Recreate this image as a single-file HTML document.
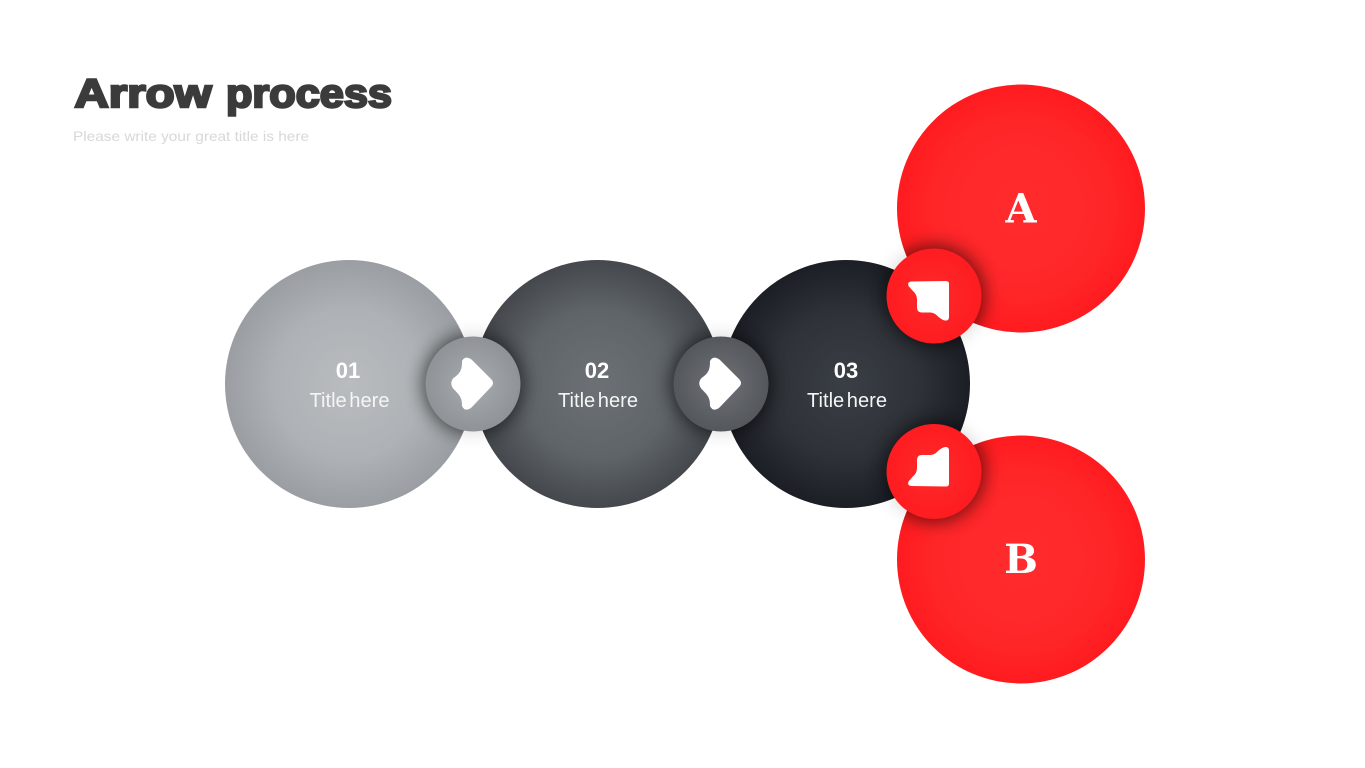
<!DOCTYPE html>
<html><head><meta charset="utf-8"><title>Arrow process</title>
<style>
html,body{margin:0;padding:0;background:#fff;width:1365px;height:768px;overflow:hidden}
svg{display:block}
</style></head>
<body>
<svg width="1365" height="768" viewBox="0 0 1365 768" xmlns="http://www.w3.org/2000/svg">
<defs>
<radialGradient id="g1"><stop offset="0" stop-color="#b8bcbf"/><stop offset=".6" stop-color="#aeb2b6"/><stop offset="1" stop-color="#9a9ea3"/></radialGradient>
<radialGradient id="g2"><stop offset="0" stop-color="#6c7176"/><stop offset=".6" stop-color="#5f6469"/><stop offset="1" stop-color="#44484d"/></radialGradient>
<radialGradient id="g3"><stop offset="0" stop-color="#3a3f45"/><stop offset=".6" stop-color="#2e3238"/><stop offset="1" stop-color="#1b1e25"/></radialGradient>
<radialGradient id="gr"><stop offset="0" stop-color="#ff2b2d"/><stop offset=".7" stop-color="#ff2628"/><stop offset="1" stop-color="#ff1b1f"/></radialGradient>
<radialGradient id="s1"><stop offset="0" stop-color="#a8acb0"/><stop offset="1" stop-color="#8f9397"/></radialGradient>
<radialGradient id="s2"><stop offset="0" stop-color="#6e7276"/><stop offset="1" stop-color="#54585c"/></radialGradient>
<radialGradient id="sr"><stop offset="0" stop-color="#ff2a2b"/><stop offset="1" stop-color="#fe1c20"/></radialGradient>
<filter id="blur" x="-50%" y="-50%" width="200%" height="200%"><feGaussianBlur stdDeviation="9"/></filter>
<clipPath id="big">
<circle cx="1021" cy="208.5" r="124"/>
<circle cx="1021" cy="559.5" r="124"/>
<circle cx="349" cy="384" r="124"/>
<circle cx="597.5" cy="384" r="124"/>
<circle cx="846" cy="384" r="124"/>
</clipPath>
<path id="arr" d="M-11,-23 Q-8,-29 -1.5,-24.5 L18,-5 Q22,-1 18,3 L-1.5,23.5 Q-8,28.5 -11,22 C-11,15 -12,12 -19.5,5 Q-24,-1 -19.5,-6 C-12,-11 -11,-15 -11,-23 Z" fill="#fff"/>
<path id="sq" d="M-23,-14.5 L12,-15 Q15,-15 15,-12 L15,21 Q15,25 11,24.5 Q8,24 4,20.5 C1,17 -2,16.5 -5,16.5 L-12,16.5 Q-17,16.5 -17,11 L-17,4 C-17,-1 -19,-3 -22,-6 L-25.5,-10 Q-27,-14 -23,-14.5 Z" fill="#fff"/>
</defs>

<g font-family="'Liberation Sans',sans-serif" font-weight="700" font-size="40" fill="#3b3b3b" stroke="#3b3b3b" stroke-width="2.4">
<text x="74.5" y="107" textLength="137" lengthAdjust="spacingAndGlyphs">Arrow</text>
<text x="226" y="107" textLength="166" lengthAdjust="spacingAndGlyphs">process</text>
</g>
<text x="73" y="141" font-family="'Liberation Sans',sans-serif" font-size="14" fill="#d8d8d8" textLength="236" lengthAdjust="spacingAndGlyphs">Please write your great title is here</text>

<circle cx="1021" cy="208.5" r="124" fill="url(#gr)"/>
<circle cx="1021" cy="559.5" r="124" fill="url(#gr)"/>
<circle cx="349" cy="384" r="124" fill="url(#g1)"/>
<circle cx="597.5" cy="384" r="124" fill="url(#g2)"/>
<circle cx="846" cy="384" r="124" fill="url(#g3)"/>

<g font-family="'Liberation Sans',sans-serif" fill="#fff" text-anchor="middle">
<text x="348" y="378" font-size="22" font-weight="700">01</text>
<text x="349.5" y="407" font-size="20" word-spacing="-3" textLength="80" lengthAdjust="spacingAndGlyphs" fill="#f4f5f5">Title here</text>
<text x="597" y="378" font-size="22" font-weight="700">02</text>
<text x="598" y="407" font-size="20" word-spacing="-3" textLength="80" lengthAdjust="spacingAndGlyphs" fill="#f4f5f5">Title here</text>
<text x="846" y="378" font-size="22" font-weight="700">03</text>
<text x="847" y="407" font-size="20" word-spacing="-3" textLength="80" lengthAdjust="spacingAndGlyphs" fill="#f4f5f5">Title here</text>
</g>
<g font-family="'DejaVu Serif',serif" font-weight="700" fill="#fff" text-anchor="middle" font-size="40">
<text x="1021" y="222.5">A</text>
<text x="1021" y="573">B</text>
</g>

<g fill="#000" opacity=".15" filter="url(#blur)">
<circle cx="473" cy="384" r="49"/>
<circle cx="721" cy="384" r="49"/>
<circle cx="934" cy="296" r="49"/>
<circle cx="934" cy="471.5" r="49"/>
</g>
<g clip-path="url(#big)">
<g fill="#000" opacity=".5" filter="url(#blur)">
<circle cx="473" cy="384" r="50"/>
<circle cx="721" cy="384" r="50"/>
<circle cx="934" cy="296" r="50"/>
<circle cx="934" cy="471.5" r="50"/>
</g>
</g>

<circle cx="473" cy="384" r="47.5" fill="url(#s1)"/>
<circle cx="721" cy="384" r="47.5" fill="url(#s2)"/>
<circle cx="934" cy="296" r="47.5" fill="url(#sr)"/>
<circle cx="934" cy="471.5" r="47.5" fill="url(#sr)"/>

<use href="#arr" transform="translate(473 384)"/>
<use href="#arr" transform="translate(721 384)"/>
<use href="#sq" transform="translate(934 296)"/>
<use href="#sq" transform="translate(934 471.5) scale(1 -1)"/>
</svg>
</body></html>
